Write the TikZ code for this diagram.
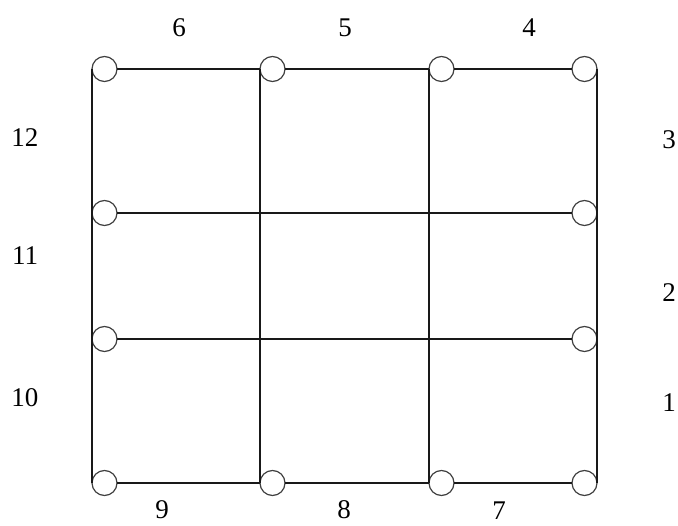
\documentclass[tikz,border=0pt]{standalone}
\usepackage{fontspec}
\setmainfont{Liberation Serif}
\begin{document}
\begin{tikzpicture}[x=1pt,y=-1pt,
  port/.style={circle,draw=black!75,fill=white,line width=1.2pt,minimum size=25pt,inner sep=0pt,outer sep=0pt},
  wire/.style={line width=1.8pt,black!90},
  num/.style={font=\fontsize{27}{27}\selectfont,inner sep=0pt}]
\useasboundingbox (0,0) rectangle (678,526);
% circles
\node[port] (t1) at (104.5,69) {};
\node[port] (t2) at (272.5,69) {};
\node[port] (t3) at (441.5,69) {};
\node[port] (t4) at (584.5,69) {};
\node[port] (l2) at (104.5,213) {};
\node[port] (r2) at (584.5,213) {};
\node[port] (l3) at (104.5,339) {};
\node[port] (r3) at (584.5,339) {};
\node[port] (b1) at (104.5,483) {};
\node[port] (b2) at (272.5,483) {};
\node[port] (b3) at (441.5,483) {};
\node[port] (b4) at (584.5,483) {};
% wires
\draw[wire] (t1) -- (t2);
\draw[wire] (t2) -- (t3);
\draw[wire] (t3) -- (t4);
\draw[wire] (l2) -- (r2);
\draw[wire] (l3) -- (r3);
\draw[wire] (b1) -- (b2);
\draw[wire] (b2) -- (b3);
\draw[wire] (b3) -- (b4);
\draw[wire] (t1.west) -- (b1.west);
\draw[wire] (t2.west) -- (b2.west);
\draw[wire] (t3.west) -- (b3.west);
\draw[wire] (t4.east) -- (b4.east);
% labels
\node[num] (n6) at (179,28) {6};
\node[num] (n5) at (345,28) {5};
\node[num] (n4) at (529,28) {4};
\node[num] (n12) at (25,138) {12};
\node[num] (n11) at (25,256) {11};
\node[num] (n10) at (25,398) {10};
\node[num] (n3) at (669,140) {3};
\node[num] (n2) at (669,293) {2};
\node[num] (n1) at (669,403) {1};
\node[num] (n9) at (162,510) {9};
\node[num] (n8) at (344,510) {8};
\node[num] (n7) at (499,511) {7};
\end{tikzpicture}
\end{document}
